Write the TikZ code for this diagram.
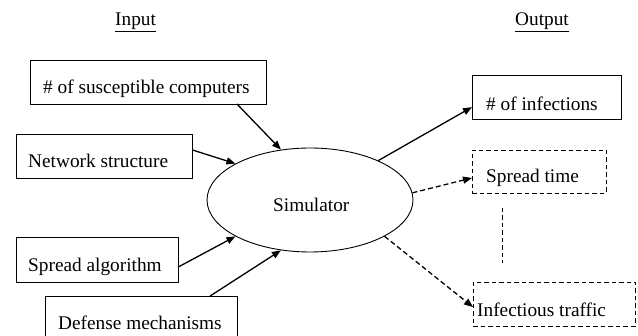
\documentclass[tikz,border=0pt]{standalone}
\usepackage{fontspec}
\setmainfont{Liberation Serif}
\usetikzlibrary{shapes.geometric,arrows.meta,calc}
\begin{document}
\begin{tikzpicture}[x=1pt,y=-1pt,
  box/.style={draw, line width=0.9pt, inner sep=0pt, outer sep=0pt, anchor=north west},
  dbox/.style={box, dash pattern=on 4.5pt off 3pt},
  lbl/.style={anchor=base west, inner sep=0pt, font=\fontsize{19.3}{23}\selectfont},
  link/.style={line width=1.3pt, -{Triangle[length=9pt,width=7pt]}},
  dlink/.style={link, dash pattern=on 5pt off 3pt}]
\useasboundingbox (0,0) rectangle (638,336);
\clip (0,0) rectangle (638,336);

% column headings
\node[lbl] (hin) at (115,26) {\underline{Input}};
\node[lbl] (hout) at (515,26) {\underline{Output}};

% input boxes
\node[box, minimum width=236pt, minimum height=44pt] (b1) at (30,60) {};
\node[lbl] (t1) at (43,94) {\# of susceptible computers};
\node[box, minimum width=176pt, minimum height=44pt] (b2) at (16,134) {};
\node[lbl] (t2) at (28,168) {Network structure};
\node[box, minimum width=162pt, minimum height=45pt] (b3) at (16,237) {};
\node[lbl] (t3) at (28,272) {Spread algorithm};
\node[box, minimum width=192pt, minimum height=52pt] (b4) at (45,296) {};
\node[lbl] (t4) at (58,330) {Defense mechanisms};

% simulator
\node[draw, ellipse, line width=0.9pt, minimum width=206pt, minimum height=104pt, inner sep=0pt] (sim) at (310,200) {};
\node[lbl] (simt) at (273,212) {Simulator};

% output boxes
\node[box, minimum width=149pt, minimum height=44pt] (o1) at (472,75) {};
\node[lbl] (u1) at (486,111) {\# of infections};
\node[dbox, minimum width=134pt, minimum height=43pt] (o2) at (472,150) {};
\node[lbl] (u2) at (486,183) {Spread time};
\node[dbox, minimum width=162pt, minimum height=44pt] (o3) at (473,282) {};
\node[lbl] (u3) at (477,317) {Infectious traffic};

% continuation between optional outputs
\coordinate (vd1) at (502,208);
\coordinate (vd2) at (502,263);
\draw[line width=0.9pt, dash pattern=on 4.5pt off 3pt] (vd1) -- (vd2);

% inputs into the simulator
\draw[link] ($(b1.south west)!0.877!(b1.south east)$) -- (sim.120);
\draw[link] ($(b2.north east)!0.36!(b2.south east)$) -- (sim.154);
\draw[link] ($(b3.north east)!0.67!(b3.south east)$) -- (sim.206);
\draw[link] ($(b4.north west)!0.86!(b4.north east)$) -- (sim.240);

% simulator outputs
\draw[link] (sim.30) -- ($(o1.north west)!0.73!(o1.south west)$);
\draw[dlink] (sim.4) -- ($(o2.north west)!0.65!(o2.south west)$);
\draw[dlink] (sim.334) -- ($(o3.north west)!0.57!(o3.south west)$);
\end{tikzpicture}
\end{document}
